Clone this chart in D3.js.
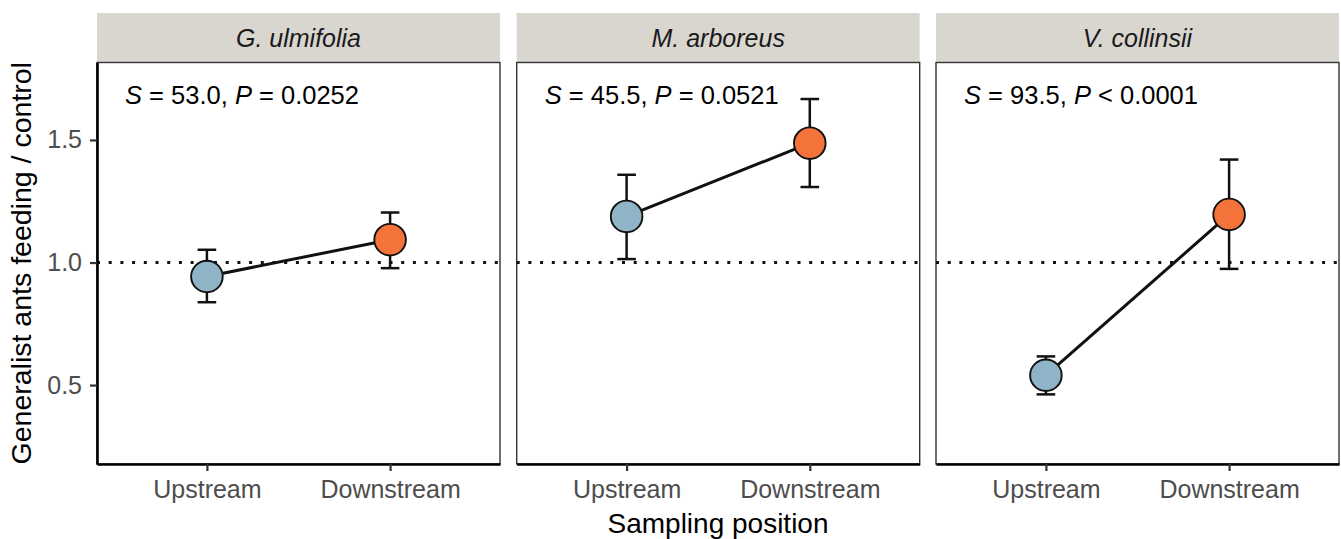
<!DOCTYPE html>
<html>
<head>
<meta charset="utf-8">
<script src="https://cdn.jsdelivr.net/npm/d3@7"></script>
<style>
  html, body { margin: 0; padding: 0; background: #fff; }
  svg { display: block; font-family: "Liberation Sans", Arial, Helvetica, sans-serif; }
</style>
</head>
<body>
<svg id="chart" width="1341" height="539"></svg>
<script>
// ---- data ----
const species = ["G. ulmifolia", "M. arboreus", "V. collinsii"];
const positions = ["Upstream", "Downstream"];
const upMean   = [0.943, 1.188, 0.540];
const upLow    = [0.838, 1.014, 0.462];
const upHigh   = [1.052, 1.358, 0.617];
const downMean = [1.093, 1.487, 1.196];
const downLow  = [0.977, 1.308, 0.974];
const downHigh = [1.204, 1.667, 1.420];
const statS    = ["53.0", "45.5", "93.5"];
const statPOp  = ["=", "=", "<"];
const statP    = ["0.0252", "0.0521", "0.0001"];
const yTicks   = [0.5, 1.0, 1.5];
const yDomain  = [0.178, 1.816];
const refLine  = 1.0;
const yTitle = "Generalist ants feeding / control";
const xTitle = "Sampling position";

// ---- layout ----
const svg = d3.select("#chart");
const panelLefts = [97, 516.7, 936];
const panelW = 403;
const stripTop = 13, plotTop = 62.5, plotBottom = 464;
const colors = { Upstream: "#8fb3c7", Downstream: "#f4733b" };

const x = d3.scalePoint().domain(positions).range([0, panelW]).padding(0.6);
const y = d3.scaleLinear().domain(yDomain).range([plotBottom, plotTop]);

species.forEach((sp, i) => {
  const g = svg.append("g").attr("transform", `translate(${panelLefts[i]},0)`);

  // strip
  g.append("rect").attr("x", 0).attr("y", stripTop).attr("width", panelW)
    .attr("height", plotTop - stripTop).attr("fill", "#d9d6d0");
  g.append("text").attr("x", panelW / 2).attr("y", 46.5)
    .attr("text-anchor", "middle").attr("font-size", 25).attr("font-style", "italic")
    .attr("fill", "#1a1a1a").text(sp);

  // panel background + border
  g.append("rect").attr("x", 0).attr("y", plotTop).attr("width", panelW)
    .attr("height", plotBottom - plotTop).attr("fill", "#fff")
    .attr("stroke", "#333").attr("stroke-width", 1.4);

  // reference dotted line
  g.append("line").attr("x1", 0).attr("x2", panelW)
    .attr("y1", y(refLine)).attr("y2", y(refLine))
    .attr("stroke", "#111").attr("stroke-width", 3)
    .attr("stroke-dasharray", "3 8.7");

  const pts = [
    { pos: "Upstream", m: upMean[i], lo: upLow[i], hi: upHigh[i] },
    { pos: "Downstream", m: downMean[i], lo: downLow[i], hi: downHigh[i] }
  ];

  // error bars
  const eb = g.append("g").attr("stroke", "#111").attr("stroke-width", 2.5);
  pts.forEach(p => {
    const cx = x(p.pos), cw = 9.3;
    eb.append("line").attr("x1", cx).attr("x2", cx).attr("y1", y(p.lo)).attr("y2", y(p.hi));
    eb.append("line").attr("x1", cx - cw).attr("x2", cx + cw).attr("y1", y(p.lo)).attr("y2", y(p.lo));
    eb.append("line").attr("x1", cx - cw).attr("x2", cx + cw).attr("y1", y(p.hi)).attr("y2", y(p.hi));
  });

  // connecting line
  g.append("path").datum(pts)
    .attr("d", d3.line().x(d => x(d.pos)).y(d => y(d.m)))
    .attr("fill", "none").attr("stroke", "#111").attr("stroke-width", 3);

  // points
  g.selectAll("circle.pt").data(pts).join("circle").attr("class", "pt")
    .attr("cx", d => x(d.pos)).attr("cy", d => y(d.m)).attr("r", 15.8)
    .attr("fill", d => colors[d.pos]).attr("stroke", "#111").attr("stroke-width", 1.9);

  // annotation
  const t = g.append("text").attr("x", 28).attr("y", 104)
    .attr("font-size", 25.5).attr("fill", "#000");
  t.append("tspan").attr("font-style", "italic").text("S");
  t.append("tspan").text(` = ${statS[i]}, `);
  t.append("tspan").attr("font-style", "italic").text("P");
  t.append("tspan").text(` ${statPOp[i]} ${statP[i]}`);

  // x axis
  const xa = g.append("g").attr("transform", `translate(0,${plotBottom})`)
    .call(d3.axisBottom(x).tickSize(7).tickSizeOuter(0).tickPadding(9));
  xa.select(".domain").attr("stroke", "#000").attr("stroke-width", 2.6);
  xa.selectAll(".tick line").attr("stroke", "#333").attr("stroke-width", 2.2);
  xa.selectAll(".tick text").attr("font-size", 25).attr("fill", "#4d4d4d")
    .attr("font-family", "Liberation Sans, Arial, sans-serif");

  // y axis only on first panel
  if (i === 0) {
    const ya = g.append("g")
      .call(d3.axisLeft(y).tickValues(yTicks).tickFormat(d3.format(".1f")).tickSize(7).tickPadding(8).tickSizeOuter(0));
    ya.select(".domain").attr("stroke", "#000").attr("stroke-width", 2.6);
    ya.selectAll(".tick line").attr("stroke", "#333").attr("stroke-width", 2.2);
    ya.selectAll(".tick text").attr("font-size", 25).attr("fill", "#4d4d4d")
      .attr("font-family", "Liberation Sans, Arial, sans-serif");
  }
});

// axis titles
svg.append("text")
  .attr("transform", `translate(31,${(plotTop + plotBottom) / 2}) rotate(-90)`)
  .attr("text-anchor", "middle").attr("font-size", 28.5).attr("fill", "#000").text(yTitle);
svg.append("text").attr("x", (panelLefts[0] + panelLefts[2] + panelW) / 2).attr("y", 533)
  .attr("text-anchor", "middle").attr("font-size", 28).attr("fill", "#000").text(xTitle);
</script>
</body>
</html>
